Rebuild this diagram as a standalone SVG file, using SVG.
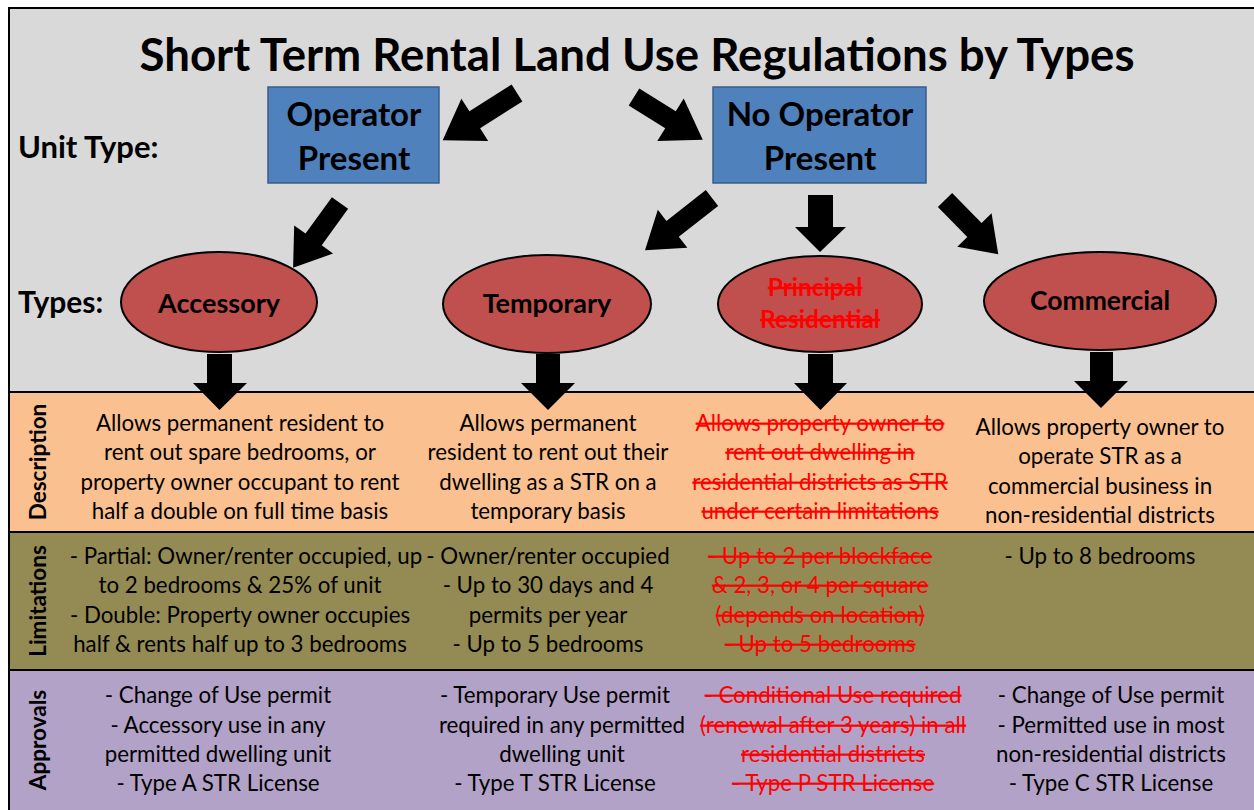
<svg xmlns="http://www.w3.org/2000/svg" width="1254" height="810" viewBox="0 0 1254 810">
<style>
.t{font-family:Lato,"Liberation Sans",sans-serif;}
.b{font-weight:bold;fill:#000;}
.body{font-size:22.3px;fill:#000;text-anchor:middle;}
.red{fill:#ff0000;text-decoration:line-through;}
.hd{font-size:22.5px;font-weight:bold;text-anchor:middle;}
.box{fill:#4f81bd;stroke:#385d8a;stroke-width:1.5;}
.ell{fill:#c0504d;stroke:#000;stroke-width:2;}
.arr{fill:#000;}
</style>
<rect x="0" y="0" width="1254" height="810" fill="#ffffff"/>
<rect x="9" y="9" width="1245" height="383" fill="#d9d9d9"/>
<rect x="9" y="392" width="1245" height="140" fill="#fac090"/>
<rect x="9" y="532" width="1245" height="138" fill="#948a54"/>
<rect x="9" y="670" width="1245" height="140" fill="#b3a2c7"/>
<g stroke="#000" stroke-width="2">
<line x1="8" y1="8" x2="1254" y2="8"/>
<line x1="9" y1="8" x2="9" y2="810"/>
<line x1="9" y1="392" x2="1254" y2="392"/>
<line x1="9" y1="532" x2="1254" y2="532"/>
<line x1="9" y1="670" x2="1254" y2="670"/>
</g>
<text class="t b" x="637" y="71" font-size="45" text-anchor="middle" textLength="995" lengthAdjust="spacingAndGlyphs">Short Term Rental Land Use Regulations by Types</text>
<text class="t b" x="18" y="158" font-size="31">Unit Type:</text>
<text class="t b" x="18" y="313" font-size="30">Types:</text>
<g id="operator-present">
<rect class="box" x="268" y="87" width="171" height="96"/>
<text class="t b" x="354" y="126" font-size="33" text-anchor="middle">Operator</text>
<text class="t b" x="354" y="170" font-size="33" text-anchor="middle">Present</text>
</g>
<g id="no-operator-present">
<rect class="box" x="713" y="87" width="213" height="96"/>
<text class="t b" x="820" y="126" font-size="33" text-anchor="middle">No Operator</text>
<text class="t b" x="820" y="170" font-size="33" text-anchor="middle">Present</text>
</g>
<g id="accessory">
<ellipse class="ell" cx="219" cy="302" rx="98" ry="50"/>
<text class="t b" x="219" y="313" font-size="27" text-anchor="middle">Accessory</text>
</g>
<g id="temporary">
<ellipse class="ell" cx="547" cy="304" rx="104" ry="49"/>
<text class="t b" x="547" y="313" font-size="27" text-anchor="middle">Temporary</text>
</g>
<g id="principal-residential">
<ellipse class="ell" cx="820" cy="304" rx="102" ry="48"/>
<text class="t b red" x="815" y="296" font-size="24.5" text-anchor="middle">Principal</text>
<text class="t b red" x="820" y="328" font-size="24.5" text-anchor="middle">Residential</text>
</g>
<g id="commercial">
<ellipse class="ell" cx="1100" cy="301" rx="116" ry="49"/>
<text class="t b" x="1100" y="310" font-size="26.5" text-anchor="middle">Commercial</text>
</g>
<g id="connectors" class="arr">
<path transform="translate(517,93) rotate(147.6)" d="M0,-10 L50,-10 L50,-25 L88,0 L50,25 L50,10 L0,10 Z"/>
<path transform="translate(634,97) rotate(31.9)" d="M0,-10 L43,-10 L43,-25 L81,0 L43,25 L43,10 L0,10 Z"/>
<path transform="translate(340,203) rotate(125.9)" d="M0,-10 L45,-10 L45,-24 L80,0 L45,24 L45,10 L0,10 Z"/>
<path transform="translate(712,198) rotate(142)" d="M0,-10 L50,-10 L50,-24 L85,0 L50,24 L50,10 L0,10 Z"/>
<path d="M808,195 L833,195 L833,227 L846,227 L820,252 L795,227 L808,227 Z"/>
<path transform="translate(945,200) rotate(45.5)" d="M0,-10 L42,-10 L42,-24 L76,0 L42,24 L42,10 L0,10 Z"/>
<path d="M207,354 L232,354 L232,383 L247,383 L219.5,410 L193,383 L207,383 Z"/>
<path d="M536,354 L560,354 L560,383 L575,383 L548,410 L521,383 L536,383 Z"/>
<path d="M808,354 L833,354 L833,383 L847,383 L820.5,410 L794,383 L808,383 Z"/>
<path d="M1090,352 L1113,352 L1113,381 L1128,381 L1101,408 L1074,381 L1090,381 Z"/>
</g>
<g id="row-labels" class="t">
<text class="hd" transform="translate(46,462) rotate(-90)">Description</text>
<text class="hd" transform="translate(46,601) rotate(-90)">Limitations</text>
<text class="hd" transform="translate(46,740) rotate(-90)">Approvals</text>
</g>
<g id="description" class="t body">
<text x="240" y="431">Allows permanent resident to</text>
<text x="240" y="460">rent out spare bedrooms, or</text>
<text x="240" y="490">property owner occupant to rent</text>
<text x="240" y="519">half a double on full time basis</text>
<text x="548" y="431">Allows permanent</text>
<text x="548" y="460">resident to rent out their</text>
<text x="548" y="490">dwelling as a STR on a</text>
<text x="548" y="519">temporary basis</text>
<text class="red" x="820" y="431">Allows property owner to</text>
<text class="red" x="820" y="460">rent out dwelling in</text>
<text class="red" x="820" y="490">residential districts as STR</text>
<text class="red" x="820" y="519">under certain limitations</text>
<text x="1100" y="435">Allows property owner to</text>
<text x="1100" y="464">operate STR as a</text>
<text x="1100" y="494">commercial business in</text>
<text x="1100" y="523">non-residential districts</text>
</g>
<g id="limitations" class="t body">
<text x="246" y="564">- Partial: Owner/renter occupied, up</text>
<text x="240" y="593">to 2 bedrooms &amp; 25% of unit</text>
<text x="240" y="623">- Double: Property owner occupies</text>
<text x="240" y="652">half &amp; rents half up to 3 bedrooms</text>
<text x="548" y="564">- Owner/renter occupied</text>
<text x="548" y="593">- Up to 30 days and 4</text>
<text x="548" y="623">permits per year</text>
<text x="548" y="652">- Up to 5 bedrooms</text>
<text class="red" x="820" y="564">- Up to 2 per blockface</text>
<text class="red" x="820" y="593">&amp; 2, 3, or 4 per square</text>
<text class="red" x="820" y="623">(depends on location)</text>
<text class="red" x="820" y="652">- Up to 5 bedrooms</text>
<text x="1100" y="564">- Up to 8 bedrooms</text>
</g>
<g id="approvals" class="t body">
<text x="218" y="703">- Change of Use permit</text>
<text x="218" y="733">- Accessory use in any</text>
<text x="218" y="762">permitted dwelling unit</text>
<text x="218" y="791">- Type A STR License</text>
<text x="555" y="703">- Temporary Use permit</text>
<text x="562" y="733">required in any permitted</text>
<text x="562" y="762">dwelling unit</text>
<text x="555" y="791">- Type T STR License</text>
<text class="red" x="833" y="703">- Conditional Use required</text>
<text class="red" x="833" y="733">(renewal after 3 years) in all</text>
<text class="red" x="833" y="762">residential districts</text>
<text class="red" x="833" y="791">- Type P STR License</text>
<text x="1111" y="703">- Change of Use permit</text>
<text x="1111" y="733">- Permitted use in most</text>
<text x="1111" y="762">non-residential districts</text>
<text x="1111" y="791">- Type C STR License</text>
</g>
</svg>
